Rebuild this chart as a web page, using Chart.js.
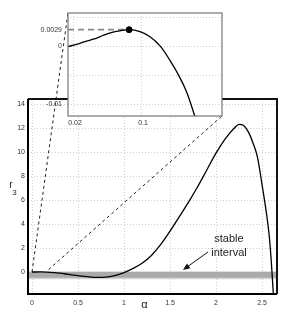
<!DOCTYPE html>
<html><head><meta charset="utf-8">
<script src="https://cdn.jsdelivr.net/npm/chart.js@4/dist/chart.umd.min.js"></script>
<style>
html,body{margin:0;padding:0;background:#fff;}
#wrap{position:relative;width:292px;height:315px;overflow:hidden;}
canvas{position:absolute;left:0;top:0;}
</style></head><body>
<div id="wrap">
<canvas id="main" width="292" height="315"></canvas>
<canvas id="inset" width="292" height="140"></canvas>
</div>
<script>
// ---- main chart data ----
const alphaValues = [0, 0.1, 0.2, 0.3, 0.4, 0.5, 0.6, 0.7, 0.8, 0.9, 1.0, 1.1, 1.2, 1.3, 1.4, 1.5, 1.6, 1.7, 1.8, 1.9, 2.0, 2.1, 2.2, 2.25, 2.3, 2.35, 2.4, 2.45, 2.5, 2.55, 2.58, 2.6, 2.615, 2.63];
const r3Values    = [0, 0.003, -0.03, -0.1, -0.2, -0.3, -0.39, -0.45, -0.43, -0.3, -0.05, 0.3, 0.75, 1.4, 2.3, 3.4, 4.6, 5.8, 7.1, 8.5, 9.9, 11.1, 12.0, 12.3, 12.2, 11.7, 10.8, 9.6, 7.3, 4.8, 2.9, 1.0, -0.8, -2.6];
const xTickValues = [0, 0.5, 1, 1.5, 2, 2.5];
const yTickValues = [0, 2, 4, 6, 8, 10, 12, 14];
const xRange = [-0.0435, 2.663];
const yRange = [-1.833, 14.417];
const stableBandX = [-0.0435, 2.663];
const stableBandY = [0, -0.55];
const zoomLinkA = [[0, 0], [0.391, 21.58]];
const zoomLinkB = [[0.18, 0.2], [2.065, 13.0]];
const arrowFrom = [1.913, 1.67];
const arrowTo = [1.641, 0.17];
const noteLines = ['stable', 'interval'];
const notePositions = [[2.141, 2.75], [2.141, 1.58]];

// ---- inset data ----
const insetAlpha = [0.0141, 0.025, 0.035, 0.045, 0.055, 0.065, 0.075, 0.086, 0.0988, 0.1106, 0.1224, 0.1341, 0.1459, 0.1538, 0.1624, 0.166];
const insetR3    = [0, 0.0004, 0.0009, 0.0013, 0.0019, 0.0024, 0.0027, 0.0029, 0.00256, 0.0017, 0.0001, -0.0024, -0.0054, -0.0079, -0.0116, -0.0133];
const insetXTicks = [0.02, 0.1];
const insetYTicks = [-0.01, -0.005, 0, 0.0029, 0.005];
const insetYLabelled = [-0.01, 0, 0.0029];
const insetXRange = [0.0141, 0.1953];
const insetYRange = [-0.01198, 0.00578];
const peakPoint = [0.086, 0.0029];

const FONT = "'Liberation Sans', Arial, sans-serif";
const gridStyle = { color: '#cfcfcf', lineWidth: 1, drawTicks: false };
const dotted = { display: false, dash: [1, 2] };

const mainPts = alphaValues.map((a, i) => ({ x: a, y: r3Values[i] }));

const framePlugin = {
  id: 'frame',
  afterDraw(chart, args, opts) {
    const { ctx, chartArea: c } = chart;
    ctx.save();
    ctx.lineWidth = opts.width;
    ctx.strokeStyle = opts.color;
    ctx.strokeRect(c.left, c.top, c.right - c.left, c.bottom - c.top);
    ctx.restore();
  }
};

const mainDecor = {
  id: 'mainDecor',
  afterDatasetsDraw(chart) {
    const { ctx } = chart;
    const xs = chart.scales.x, ys = chart.scales.y;
    ctx.save();
    ctx.fillStyle = '#222';
    ctx.font = '11px ' + FONT;
    ctx.textAlign = 'center';
    ctx.textBaseline = 'middle';
    noteLines.forEach((t, i) => {
      ctx.fillText(t, xs.getPixelForValue(notePositions[i][0]), ys.getPixelForValue(notePositions[i][1]));
    });
    const x1 = xs.getPixelForValue(arrowFrom[0]), y1 = ys.getPixelForValue(arrowFrom[1]);
    const x2 = xs.getPixelForValue(arrowTo[0]), y2 = ys.getPixelForValue(arrowTo[1]);
    const ang = Math.atan2(y2 - y1, x2 - x1);
    ctx.strokeStyle = '#111';
    ctx.lineWidth = 1;
    ctx.beginPath(); ctx.moveTo(x1, y1); ctx.lineTo(x2 - 4 * Math.cos(ang), y2 - 4 * Math.sin(ang)); ctx.stroke();
    ctx.fillStyle = '#111';
    ctx.beginPath();
    ctx.moveTo(x2, y2);
    ctx.lineTo(x2 - 7 * Math.cos(ang) + 3 * Math.sin(ang), y2 - 7 * Math.sin(ang) - 3 * Math.cos(ang));
    ctx.lineTo(x2 - 7 * Math.cos(ang) - 3 * Math.sin(ang), y2 - 7 * Math.sin(ang) + 3 * Math.cos(ang));
    ctx.closePath(); ctx.fill();
    ctx.restore();
  },
  afterDraw(chart) {
    const { ctx, chartArea: c } = chart;
    ctx.save();
    ctx.lineWidth = 2;
    ctx.strokeStyle = '#111';
    ctx.beginPath();
    ctx.moveTo(c.left, c.top); ctx.lineTo(c.right, c.top); ctx.lineTo(c.right, c.bottom);
    ctx.stroke();
    ctx.strokeStyle = '#000';
    ctx.beginPath();
    ctx.moveTo(c.left, c.top); ctx.lineTo(c.left, c.bottom); ctx.lineTo(c.right, c.bottom);
    ctx.stroke();
    ctx.fillStyle = '#222';
    ctx.textAlign = 'center';
    ctx.textBaseline = 'middle';
    ctx.font = '11px ' + FONT;
    ctx.fillText('α', (c.left + c.right) / 2 - 8, c.bottom + 11);
    const my = (c.top + c.bottom) / 2;
    ctx.font = '10px ' + FONT;
    ctx.fillText('r', c.left - 17, my - 11);
    ctx.font = '8px ' + FONT;
    ctx.fillText('3', c.left - 13.5, my - 4);
    ctx.restore();
  }
};

new Chart(document.getElementById('main'), {
  type: 'line',
  data: {
    datasets: [
      { data: mainPts, borderColor: '#000', borderWidth: 1.3, pointRadius: 0, cubicInterpolationMode: 'monotone', order: 1 },
      { data: zoomLinkA.map(p => ({ x: p[0], y: p[1] })), borderColor: '#222', borderWidth: 1, borderDash: [3, 3], pointRadius: 0, clip: false, order: 2 },
      { data: zoomLinkB.map(p => ({ x: p[0], y: p[1] })), borderColor: '#222', borderWidth: 1, borderDash: [3, 3], pointRadius: 0, clip: false, order: 2 },
      { data: stableBandX.map(x => ({ x, y: stableBandY[0] })), borderColor: '#d6d6d6', borderWidth: 1.5, pointRadius: 0, order: 4 },
      { data: stableBandX.map(x => ({ x, y: stableBandY[1] })), borderColor: '#d6d6d6', borderWidth: 1.5, pointRadius: 0, fill: '-1', backgroundColor: '#aaaaaa', order: 3 }
    ]
  },
  options: {
    responsive: false, animation: false, devicePixelRatio: 1,
    layout: { padding: { left: 0, top: 99, right: 15, bottom: 0 } },
    plugins: { legend: { display: false }, tooltip: { enabled: false } },
    scales: {
      x: {
        type: 'linear', min: xRange[0], max: xRange[1],
        afterBuildTicks: s => { s.ticks = xTickValues.map(v => ({ value: v })); },
        afterFit: s => { s.height = 21; },
        grid: gridStyle, border: dotted,
        ticks: { padding: 5, color: '#333', font: { size: 7, family: FONT }, callback: v => String(v) }
      },
      y: {
        type: 'linear', min: yRange[0], max: yRange[1],
        afterBuildTicks: s => { s.ticks = yTickValues.map(v => ({ value: v })); },
        afterFit: s => { s.width = 28; },
        grid: gridStyle, border: dotted,
        ticks: { padding: 3, color: '#333', font: { size: 7, family: FONT }, callback: v => String(v) }
      }
    }
  },
  plugins: [mainDecor]
});

const insetBg = {
  id: 'insetBg',
  beforeDraw(chart) {
    const { ctx, chartArea: c } = chart;
    ctx.save(); ctx.fillStyle = '#fff';
    ctx.fillRect(c.left, c.top, c.right - c.left, c.bottom - c.top);
    ctx.restore();
  }
};

new Chart(document.getElementById('inset'), {
  type: 'line',
  data: {
    datasets: [
      { data: [{ x: peakPoint[0], y: peakPoint[1] }], showLine: false, pointRadius: 3, pointBackgroundColor: '#000', pointBorderColor: '#000', order: 0 },
      { data: insetAlpha.map((a, i) => ({ x: a, y: insetR3[i] })), borderColor: '#000', borderWidth: 1.3, pointRadius: 0, tension: 0.35, order: 1 },
      { data: [{ x: insetXRange[0], y: peakPoint[1] }, { x: peakPoint[0], y: peakPoint[1] }], borderColor: '#888', borderWidth: 1.8, borderDash: [6, 4], pointRadius: 0, order: 2 }
    ]
  },
  options: {
    responsive: false, animation: false, devicePixelRatio: 1,
    layout: { padding: { left: 0, top: 13, right: 70, bottom: 0 } },
    plugins: { legend: { display: false }, tooltip: { enabled: false }, frame: { color: '#777', width: 1.2 } },
    scales: {
      x: {
        type: 'linear', min: insetXRange[0], max: insetXRange[1],
        afterBuildTicks: s => { s.ticks = insetXTicks.map(v => ({ value: v })); },
        afterFit: s => { s.height = 24; },
        grid: gridStyle, border: dotted,
        ticks: { padding: 3, labelOffset: 2, color: '#333', font: { size: 7, family: FONT }, callback: v => String(v) }
      },
      y: {
        type: 'linear', min: insetYRange[0], max: insetYRange[1],
        afterBuildTicks: s => { s.ticks = insetYTicks.map(v => ({ value: v })); },
        afterFit: s => { s.width = 68; },
        grid: { drawTicks: false, lineWidth: 1, color: c => (c.tick && c.tick.value === 0.0029) ? 'rgba(0,0,0,0)' : '#cfcfcf' },
        border: dotted,
        ticks: { padding: 6, color: '#333', font: { size: 7, family: FONT }, callback: v => insetYLabelled.includes(v) ? String(v) : '' }
      }
    }
  },
  plugins: [insetBg, framePlugin]
});
</script>
</body></html>
